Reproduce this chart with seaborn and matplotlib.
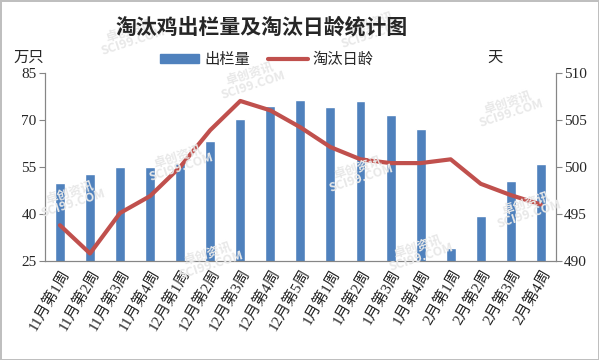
import matplotlib.pyplot as plt
import seaborn as sns
import numpy as np
import pandas as pd
from matplotlib.patches import Patch
from matplotlib.lines import Line2D

# 数据
weeks = ['11月第1周', '11月第2周', '11月第3周', '11月第4周',
         '12月第1周', '12月第2周', '12月第3周', '12月第4周', '12月第5周',
         '1月第1周', '1月第2周', '1月第3周', '1月第4周',
         '2月第1周', '2月第2周', '2月第3周', '2月第4周']
chulan = [49.8, 52.6, 54.9, 54.9, 56.1, 63.2, 70.2, 74.4, 76.3,
          74.0, 76.0, 71.5, 67.0, 29.2, 39.4, 50.5, 55.9]
rilin = [493.8, 490.8, 495.1, 496.9, 500.0, 503.9, 507.0, 506.0, 504.2,
         502.1, 500.8, 500.4, 500.4, 500.8, 498.2, 497.0, 496.0]

sns.set_style('white')
plt.rcParams['font.family'] = ['Liberation Serif', 'Noto Sans CJK SC', 'DejaVu Sans']

df = pd.DataFrame({'week': weeks, 'chulan': chulan, 'rilin': rilin})

fig = plt.figure(figsize=(5.99, 3.6), dpi=100)
fig.patch.set_edgecolor('#bfbfbf')
fig.patch.set_linewidth(2)

# 水印（放在最底层）
for (x, y) in [(0.22, 0.9), (0.62, 0.92), (0.42, 0.78), (0.85, 0.7),
               (0.3, 0.55), (0.6, 0.52), (0.88, 0.42), (0.35, 0.28),
               (0.7, 0.3), (0.12, 0.45)]:
    fig.text(x, y, '卓创资讯\nSCI99.COM', fontsize=9, color='#e8e8e8',
             rotation=18, ha='center', va='center', fontweight='bold',
             linespacing=0.9, family=['Noto Sans CJK SC'], zorder=0)

ax = fig.add_axes([0.075, 0.275, 0.853, 0.523])
ax.patch.set_alpha(0)

sns.barplot(data=df, x='week', y='chulan', color='#4f81bd', width=0.33,
            saturation=1, ax=ax, zorder=2)
ax.set_ylim(25, 85)
ax.set_yticks([25, 40, 55, 70, 85])
ax.set_xlim(-0.5, len(weeks) - 0.5)
ax.set_xlabel('')
ax.set_ylabel('')

ax2 = ax.twinx()
ax2.patch.set_alpha(0)
sns.lineplot(x=np.arange(len(weeks)), y=df['rilin'], color='#c0504d',
             linewidth=3, ax=ax2, zorder=3)
ax2.set_ylim(490, 510)
ax2.set_yticks([490, 495, 500, 505, 510])
ax2.set_ylabel('')

for a in (ax, ax2):
    for s in a.spines.values():
        s.set_color('#868686')
    a.spines['top'].set_visible(False)
    a.tick_params(axis='y', direction='out', length=4, color='#868686',
                  labelsize=11, pad=2)

# x刻度在类别之间
ax.set_xticks(np.arange(len(weeks)))
ax.set_xticklabels(weeks, rotation=60, ha='right', rotation_mode='anchor',
                   fontsize=11)
ax.tick_params(axis='x', which='major', length=0, pad=4)
ax.set_xticks(np.arange(len(weeks) + 1) - 0.5, minor=True)
ax.tick_params(axis='x', which='minor', direction='out', length=4, color='#868686')

# 标题与单位
fig.text(0.437, 0.925, '淘汰鸡出栏量及淘汰日龄统计图', ha='center', va='center',
         fontsize=15, fontweight='bold', family=['Noto Sans CJK SC'])
fig.text(0.023, 0.84, '万只', fontsize=11, va='center', family=['Noto Sans CJK SC'])
fig.text(0.813, 0.84, '天', fontsize=11, va='center', family=['Noto Sans CJK SC'])

handles = [Patch(color='#4f81bd'), Line2D([0], [0], color='#c0504d', lw=3)]
fig.legend(handles, ['出栏量', '淘汰日龄'], loc='center', bbox_to_anchor=(0.445, 0.835),
           ncol=2, frameon=False, handlelength=2.6, handleheight=0.6,
           columnspacing=1.2, handletextpad=0.3,
           prop={'family': ['Noto Sans CJK SC'], 'size': 11})

fig.savefig('out.png', dpi=100)
